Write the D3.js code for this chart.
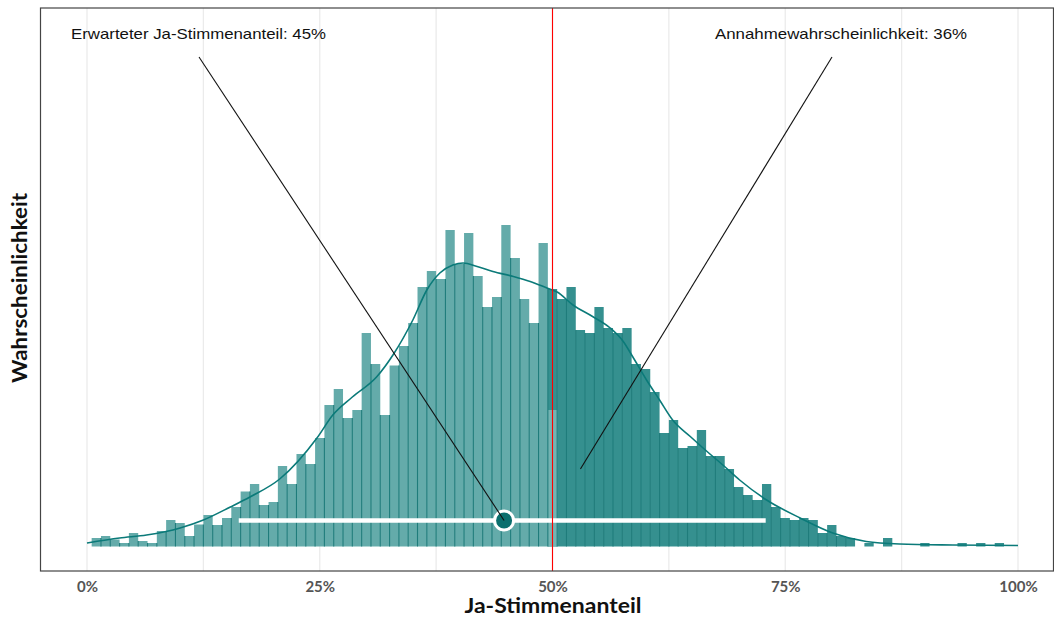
<!DOCTYPE html>
<html><head><meta charset="utf-8">
<script src="https://cdn.jsdelivr.net/npm/d3@7"></script>
<style>body{margin:0;background:#fff}svg{display:block}</style>
</head><body>
<svg id="chart" width="1054" height="620"></svg>
<script>
// Histogram: bin centre (Ja-Stimmenanteil in %) and bar height (relative frequency, arbitrary units)
const binPercent = [0,1,2,3,4,5,6,7,8,9,10,11,12,13,14,15,16,17,18,19,20,21,22,23,24,25,26,27,28,29,30,31,32,33,34,35,36,37,38,39,40,41,42,43,44,45,46,47,48,49,50,51,52,53,54,55,56,57,58,59,60,61,62,63,64,65,66,67,68,69,70,71,72,73,74,75,76,77,78,79,80,81,82,83,84,85,86,87,88,89,90,91,92,93,94,95,96,97,98,99];
const binHeight = [0,8.5,10.5,7,3.5,13.5,5.5,3.5,15.5,26.5,23.5,10.5,22,31.5,21.5,28.5,39.5,55,62.5,41.5,44.5,80.5,62.5,92.5,82.5,108.5,141.5,157.5,128.5,136.5,213.5,182.5,131.5,181,200.5,223.5,259.5,275.5,267.5,316.5,282.5,313.5,270.5,239.5,249.5,321.5,288.5,247.5,223.5,303.5,257.5,247.5,259.5,216.5,213.5,239.5,218.5,213.5,218.5,182.5,177.5,154.5,113.5,126.5,98.5,100.5,116.5,90.5,90.5,77.5,59.5,51.5,46.5,62.5,39.5,28.5,26.5,28.5,26.5,13.5,21.5,10.5,8.5,0,3.5,0,8.5,0,0,0,3.5,0,0,0,3.5,0,3.5,0,3.5,0];
// part of the 50% bin that lies below the threshold
const splitBin = 50;
const splitBelowHeight = 136.5;

// Density curve
const densityX = [0,3.5,6.4,10,12.5,15.4,17.5,20.7,24.7,26.4,28.5,31.1,32.9,35,36.5,37.9,39.3,40.4,41.9,43.6,45.8,47.6,49.4,50.5,52.2,54.3,56.2,57.6,58.6,60.1,61.5,62.9,64.8,66.6,68.3,70.1,73,76.6,80.1,83.7,87.3,93,100];
const densityY = [3.5,8.5,11.5,18.5,26.5,39.5,49.5,67.5,108.5,131.5,149.5,169.5,192,226.5,256.5,273.5,281.5,283.5,280,275,270,265,258.5,254.5,241.5,230,218.5,205,190,166.5,146.5,126.5,110,95,81.5,66.5,46.5,28.5,13.5,5,2.5,1.5,1];

// Summary
const expected = 44.8;         // Erwarteter Ja-Stimmenanteil (shown rounded)
const intervalLow = 16.3;
const intervalHigh = 72.9;
const threshold = 50;
const acceptance = 36;         // Annahmewahrscheinlichkeit
const acceptancePoint = [53, 77.5];
const xTicks = [0,25,50,75,100];
const xGrid = [0,12.5,25,37.5,50,62.5,75,87.5,100];
const yMax = 538.5;

const svg = d3.select("#chart");
const x = d3.scaleLinear().domain([0,100]).range([87,1018]);
const y = d3.scaleLinear().domain([0,yMax]).range([546.5,8]);

const light = "#64abaa", dark = "#35908f", sep = "#1f7c7b", curveCol = "#0b7a79";

// gridlines
svg.append("g").selectAll("line").data(xGrid).join("line")
  .attr("x1", d=>x(d)).attr("x2", d=>x(d)).attr("y1", 8).attr("y2", 571)
  .attr("stroke", "#ebebeb").attr("stroke-width", 1.3);

// bars
const bars = binPercent.map((p,i)=>({p, h: binHeight[i]})).filter(d=>d.h>0);
svg.append("g").selectAll("rect").data(bars).join("rect")
  .attr("x", d=>x(d.p-0.5)).attr("width", d=>x(d.p+0.5)-x(d.p-0.5))
  .attr("y", d=>y(d.h)).attr("height", d=>y(0)-y(d.h))
  .attr("fill", d=>d.p>=threshold ? dark : light);
// lower (below threshold) part of split bin
svg.append("rect")
  .attr("x", x(splitBin-0.5)).attr("width", x(splitBin+0.5)-x(splitBin-0.5))
  .attr("y", y(splitBelowHeight)).attr("height", y(0)-y(splitBelowHeight))
  .attr("fill", "#74b4b2");
// separators between adjacent bars
const seps = binPercent.slice(1).map((p,i)=>({p, h: Math.min(binHeight[i], binHeight[i+1])})).filter(d=>d.h>0);
svg.append("g").selectAll("line").data(seps).join("line")
  .attr("x1", d=>x(d.p-0.5)).attr("x2", d=>x(d.p-0.5))
  .attr("y1", y(0)).attr("y2", d=>y(d.h))
  .attr("stroke", sep).attr("stroke-width", 1.1);

// density
const line = d3.line().x(d=>x(d[0])).y(d=>y(d[1])).curve(d3.curveMonotoneX);
svg.append("path").datum(densityX.map((v,i)=>[v,densityY[i]]))
  .attr("d", line).attr("fill","none").attr("stroke", curveCol).attr("stroke-width", 1.6);

// interval
const yInt = 520.5;
svg.append("line").attr("x1", x(intervalLow)).attr("x2", x(intervalHigh))
  .attr("y1", yInt).attr("y2", yInt).attr("stroke","#fff").attr("stroke-width",4.5);
svg.append("circle").attr("cx", x(expected)).attr("cy", yInt).attr("r", 9.5)
  .attr("fill","#0b6f6e").attr("stroke","#fff").attr("stroke-width",3);

// threshold
svg.append("line").attr("x1", x(threshold)).attr("x2", x(threshold))
  .attr("y1", 8).attr("y2", 571).attr("stroke","#ff0000").attr("stroke-width",1.1);

// annotations
svg.append("line").attr("x1",199).attr("y1",57).attr("x2",x(expected)).attr("y2",yInt)
  .attr("stroke","#111").attr("stroke-width",1.1);
svg.append("line").attr("x1",832).attr("y1",57).attr("x2",x(acceptancePoint[0])).attr("y2",y(acceptancePoint[1]))
  .attr("stroke","#111").attr("stroke-width",1.1);
svg.append("text").attr("x",71).attr("y",38.5).attr("font-family","'Liberation Sans', Arial, sans-serif")
  .attr("font-size",15).attr("fill","#111").attr("textLength",255).attr("lengthAdjust","spacingAndGlyphs")
  .text(`Erwarteter Ja-Stimmenanteil: ${Math.round(expected)}%`);
svg.append("text").attr("x",715).attr("y",38.5).attr("font-family","'Liberation Sans', Arial, sans-serif")
  .attr("font-size",15).attr("fill","#111").attr("textLength",252).attr("lengthAdjust","spacingAndGlyphs")
  .text(`Annahmewahrscheinlichkeit: ${acceptance}%`);

// frame
svg.append("rect").attr("x",40.5).attr("y",8).attr("width",1013).attr("height",563)
  .attr("fill","none").attr("stroke","#444").attr("stroke-width",1.2);

// x axis
const ax = svg.append("g").attr("transform","translate(0,571)")
  .call(d3.axisBottom(x).tickValues(xTicks).tickFormat(d=>d+"%").tickSize(0).tickPadding(10));
ax.select(".domain").remove();
ax.selectAll("text").attr("font-family","Lato, sans-serif").attr("font-weight","bold")
  .attr("font-size",15).attr("fill","#555");

// axis titles
svg.append("text").attr("x",553).attr("y",613).attr("text-anchor","middle")
  .attr("font-family","Lato, sans-serif").attr("font-weight","bold").attr("font-size",20).attr("fill","#111")
  .attr("textLength",177).attr("lengthAdjust","spacingAndGlyphs").text("Ja-Stimmenanteil");
svg.append("text").attr("transform","translate(27,288) rotate(-90)").attr("text-anchor","middle")
  .attr("font-family","Lato, sans-serif").attr("font-weight","bold").attr("font-size",20).attr("fill","#111")
  .attr("textLength",190).attr("lengthAdjust","spacingAndGlyphs").text("Wahrscheinlichkeit");
</script>
</body></html>
